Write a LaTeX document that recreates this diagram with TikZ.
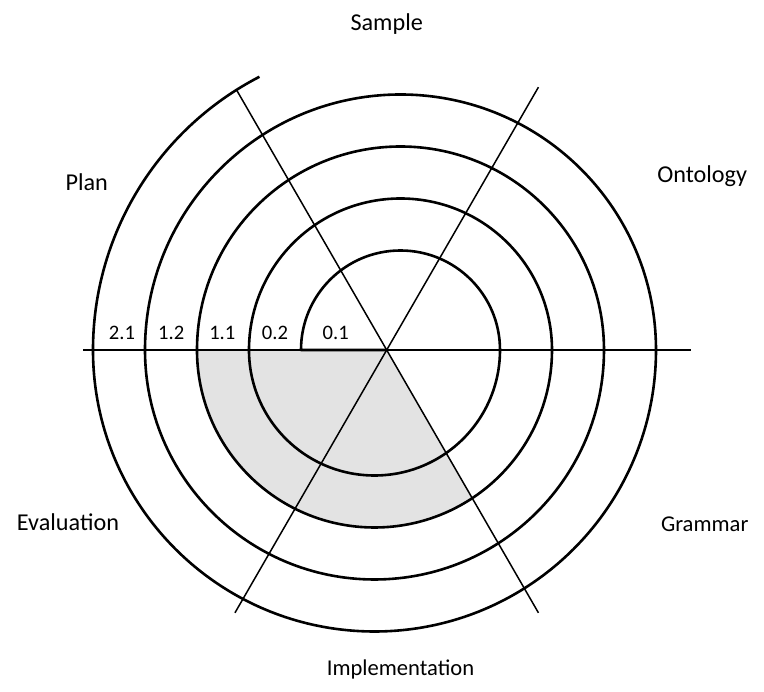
\documentclass[tikz,border=0pt]{standalone}
\usepackage{fontspec}
\setmainfont{Carlito}
\definecolor{shadegray}{HTML}{E3E3E3}
\begin{document}
\begin{tikzpicture}[x=1pt,y=1pt,
  spiralline/.style={line width=2.6pt, line join=round},
  axisline/.style={line width=1.5pt},
  lbl/.style={font=\fontsize{20.6}{24}\selectfont, inner sep=0pt, anchor=base},
  big/.style={font=\fontsize{24.2}{28}\selectfont},
  mid/.style={font=\fontsize{22.6}{27}\selectfont}]
\useasboundingbox (-386.7,-342) rectangle (377.3,350);
% shaded sector
\fill[shadegray] (0,0) -- (-189.7,0) arc[start angle=180,end angle=303.4,radius=177.5] -- cycle;
% axes
\coordinate (O) at (0,0);
\coordinate (hl) at (-303.4,0);
\coordinate (hr) at (304,0);
\coordinate (a1) at (60:303.5);
\coordinate (a2) at (240:303.5);
\coordinate (b1) at (120:300.4);
\coordinate (b2) at (300:303.5);
\draw[axisline] (hl) -- (hr);
\draw[axisline] (a1) -- (a2);
\draw[axisline] (b1) -- (b2);
% spiral
\draw[spiralline] (O) -- (-85.7,0)
  arc[start angle=180,end angle=0,radius=99.5]
  arc[start angle=0,end angle=-180,radius=125.5]
  arc[start angle=180,end angle=0,radius=151.5]
  arc[start angle=0,end angle=-180,radius=177.5]
  arc[start angle=180,end angle=0,radius=203.5]
  arc[start angle=0,end angle=-180,radius=229.5]
  arc[start angle=180,end angle=0,radius=255.5]
  arc[start angle=0,end angle=-180,radius=281.5]
  arc[start angle=180,end angle=117.3,radius=307.5];
% ring labels
\node[lbl] (l01) at (-51,10.7) {0.1};
\node[lbl] (l02) at (-111.7,10.7) {0.2};
\node[lbl] (l11) at (-164.4,10.7) {1.1};
\node[lbl] (l12) at (-215.5,10.7) {1.2};
\node[lbl] (l21) at (-264.7,10.7) {2.1};
% sector labels
\node[lbl,big] (sample) at (0,319) {Sample};
\node[lbl,big] (plan) at (-300,159) {Plan};
\node[lbl,big] (onto) at (315.5,167.5) {Ontology};
\node[lbl,big] (eval) at (-318.7,-180.5) {Evaluation};
\node[lbl,mid] (gram) at (318,-182) {Grammar};
\node[lbl,mid] (impl) at (13.8,-326) {Implementation};
\end{tikzpicture}
\end{document}
